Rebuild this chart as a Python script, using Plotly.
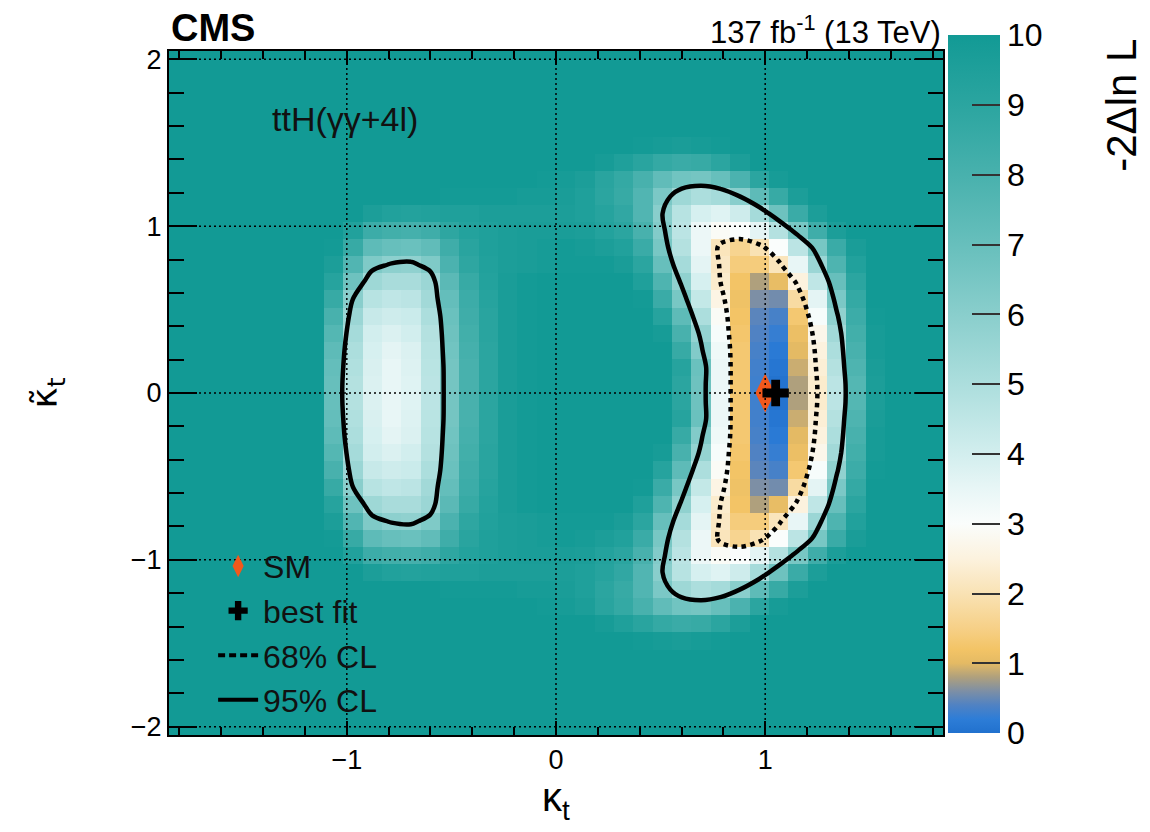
import plotly.graph_objects as go

# ---- data -------------------------------------------------------------
# bin centres of the 2D scan (kappa_t on x, kappa_t tilde on y)
KT = [-1.80375, -1.71125, -1.61875, -1.52625, -1.43375, -1.34125, -1.24875, -1.15625, -1.06375, -0.97125,
      -0.87875, -0.78625, -0.69375, -0.60125, -0.50875, -0.41625, -0.32375, -0.23125, -0.13875, -0.04625,
      0.04625, 0.13875, 0.23125, 0.32375, 0.41625, 0.50875, 0.60125, 0.69375, 0.78625, 0.87875,
      0.97125, 1.06375, 1.15625, 1.24875, 1.34125, 1.43375, 1.52625, 1.61875, 1.71125, 1.80375]
KTT = [-1.99875, -1.89625, -1.79375, -1.69125, -1.58875, -1.48625, -1.38375, -1.28125, -1.17875, -1.07625,
       -0.97375, -0.87125, -0.76875, -0.66625, -0.56375, -0.46125, -0.35875, -0.25625, -0.15375, -0.05125,
       0.05125, 0.15375, 0.25625, 0.35875, 0.46125, 0.56375, 0.66625, 0.76875, 0.87125, 0.97375,
       1.07625, 1.17875, 1.28125, 1.38375, 1.48625, 1.58875, 1.69125, 1.79375, 1.89625, 1.99875]

# -2 Delta ln L per bin (rows from bottom to top, values >= 10 shown as 10)
Z = [
    [10,10,10,10,10,10,10,10,10,10, 10,10,10,10,10,10,10,10,10,10, 10,10,10,10,10,10,10,10,10,10, 10,10,10,10,10,10,10,10,10,10],
    [10,10,10,10,10,10,10,10,10,10, 10,10,10,10,10,10,10,10,10,10, 10,10,10,10,10,10,10,10,10,10, 10,10,10,10,10,10,10,10,10,10],
    [10,10,10,10,10,10,10,10,10,10, 10,10,10,10,10,10,10,10,10,10, 10,10,10,10,10,10,10,10,10,10, 10,10,10,10,10,10,10,10,10,10],
    [10,10,10,10,10,10,10,10,10,10, 10,10,10,10,10,10,10,10,10,10, 10,10,10,10,10,10,10,10,10,10, 10,10,10,10,10,10,10,10,10,10],
    [10,10,10,10,10,10,10,10,10,10, 10,10,10,10,10,10,10,10,10,10, 10,10,10,10,10,10,10,10,10,10, 10,10,10,10,10,10,10,10,10,10],
    [10,10,10,10,10,10,10,10,10,10, 10,10,10,10,10,10,10,10,10,10, 10,10,10,10,9.9,9.8,9.7,9.8,9.9,10, 10,10,10,10,10,10,10,10,10,10],
    [10,10,10,10,10,10,10,10,10,10, 10,10,10,10,10,10,10,10,10,10, 10,10,9.8,9.5,9.1,8.7,8.5,8.6,9.0,9.6, 10,10,10,10,10,10,10,10,10,10],
    [10,10,10,10,10,10,10,10,10,10, 10,10,10,10,10,10,10,10,10,9.9, 9.8,9.6,9.1,8.7,8.0,7.2,6.7,6.6,7.0,7.9, 9.0,9.8,10,10,10,10,10,10,10,10],
    [10,10,10,10,10,10,10,10,10,10, 10,10,10,10,9.9,9.9,9.9,9.9,9.8,9.8, 9.7,9.5,9.0,8.6,7.7,6.4,5.4,5.0,5.2,6.0, 7.3,8.6,9.6,10,10,10,10,10,10,10],
    [10,10,10,10,10,10,10,10,10,10, 9.6,9.4,9.3,9.4,9.5,9.5,9.6,9.6,9.6,9.6, 9.6,9.5,9.2,8.8,7.7,6.0,4.7,3.9,3.7,4.1, 5.2,6.8,8.5,9.6,10,10,10,10,10,10],
    [10,10,10,10,10,10,10,10,10,9.4, 8.4,8.2,8.1,8.3,8.9,9.3,9.5,9.6,9.7,9.7, 9.7,9.6,9.3,9.0,8.0,6.2,4.6,3.4,2.9,3.0, 3.6,4.8,6.5,8.3,9.6,10,10,10,10,10],
    [10,10,10,10,10,10,10,10,9.9,8.6, 7.3,7.0,6.9,7.2,8.3,9.1,9.5,9.6,9.7,9.8, 9.9,9.8,9.6,9.4,8.5,6.5,4.8,3.4,2.1,1.6, 2.0,3.0,4.6,6.5,8.5,9.7,10,10,10,10],
    [10,10,10,10,10,10,10,10,9.6,7.7, 6.3,5.9,5.8,6.3,7.9,8.9,9.4,9.6,9.7,9.8, 9.9,9.9,9.9,9.7,9.0,7.0,5.2,3.6,2.2,1.4, 1.4,2.1,3.5,5.5,7.8,9.4,10,10,10,10],
    [10,10,10,10,10,10,10,10,9.2,6.8, 5.4,5.1,5.1,5.5,7.4,8.6,9.3,9.7,9.9,10, 10,10,10,10,9.5,7.8,5.8,3.9,2.3,1.2, 0.8,1.05,2.5,4.5,7.0,9.0,10,10,10,10],
    [10,10,10,10,10,10,10,10,8.6,6.0, 4.7,4.5,4.6,5.3,7.1,8.4,9.2,9.7,9.9,10, 10,10,10,10,9.9,8.5,6.5,4.4,2.6,1.15, 0.6,0.55,1.8,3.6,6.4,8.7,10,10,10,10],
    [10,10,10,10,10,10,10,10,8.0,5.5, 4.3,4.1,4.2,5.0,6.9,8.3,9.1,9.7,9.9,10, 10,10,10,10,10,9.2,7.3,5.0,2.9,1.2, 0.45,0.35,1.3,3.1,5.8,8.4,9.9,10,10,10],
    [10,10,10,10,10,10,10,10,7.6,5.2, 4.0,3.8,4.0,4.8,6.8,8.2,9.1,9.7,9.9,10, 10,10,10,10,10,9.8,8.0,5.7,3.1,1.25, 0.4,0.25,1.1,2.7,5.3,8.2,9.8,10,10,10],
    [10,10,10,10,10,10,10,10,7.3,5.0, 3.9,3.6,3.8,4.7,6.7,8.1,9.0,9.7,9.9,10, 10,10,10,10,10,10,8.6,6.2,3.3,1.3, 0.35,0.15,1.0,2.5,5.0,8.0,9.8,10,10,10],
    [10,10,10,10,10,10,10,10,7.1,4.9, 3.85,3.5,3.75,4.65,6.6,8.0,9.0,9.7,9.9,10, 10,10,10,10,10,10,9.2,6.9,3.4,1.3, 0.32,0.08,0.9,2.4,4.8,7.8,9.7,10,10,10],
    [10,10,10,10,10,10,10,10,7.0,4.8, 3.8,3.5,3.7,4.6,6.6,8.0,9.0,9.7,9.9,10, 10,10,10,10,10,10,9.0,6.8,3.4,1.3, 0.3,0.03,0.8,2.3,4.6,7.6,9.6,10,10,10],
    [10,10,10,10,10,10,10,10,7.0,4.8, 3.8,3.5,3.7,4.6,6.6,8.0,9.0,9.7,9.9,10, 10,10,10,10,10,10,9.0,6.8,3.4,1.3, 0.3,0.03,0.8,2.3,4.6,7.6,9.6,10,10,10],
    [10,10,10,10,10,10,10,10,7.1,4.9, 3.85,3.5,3.75,4.65,6.6,8.0,9.0,9.7,9.9,10, 10,10,10,10,10,10,9.2,6.9,3.4,1.3, 0.32,0.08,0.9,2.4,4.8,7.8,9.7,10,10,10],
    [10,10,10,10,10,10,10,10,7.3,5.0, 3.9,3.6,3.8,4.7,6.7,8.1,9.0,9.7,9.9,10, 10,10,10,10,10,10,8.6,6.2,3.3,1.3, 0.35,0.15,1.0,2.5,5.0,8.0,9.8,10,10,10],
    [10,10,10,10,10,10,10,10,7.6,5.2, 4.0,3.8,4.0,4.8,6.8,8.2,9.1,9.7,9.9,10, 10,10,10,10,10,9.8,8.0,5.7,3.1,1.25, 0.4,0.25,1.1,2.7,5.3,8.2,9.8,10,10,10],
    [10,10,10,10,10,10,10,10,8.0,5.5, 4.3,4.1,4.2,5.0,6.9,8.3,9.1,9.7,9.9,10, 10,10,10,10,10,9.2,7.3,5.0,2.9,1.2, 0.45,0.35,1.3,3.1,5.8,8.4,9.9,10,10,10],
    [10,10,10,10,10,10,10,10,8.6,6.0, 4.7,4.5,4.6,5.3,7.1,8.4,9.2,9.7,9.9,10, 10,10,10,10,9.9,8.5,6.5,4.4,2.6,1.15, 0.6,0.55,1.8,3.6,6.4,8.7,10,10,10,10],
    [10,10,10,10,10,10,10,10,9.2,6.8, 5.4,5.1,5.1,5.5,7.4,8.6,9.3,9.7,9.9,10, 10,10,10,10,9.5,7.8,5.8,3.9,2.3,1.2, 0.8,1.05,2.5,4.5,7.0,9.0,10,10,10,10],
    [10,10,10,10,10,10,10,10,9.6,7.7, 6.3,5.9,5.8,6.3,7.9,8.9,9.4,9.6,9.7,9.8, 9.9,9.9,9.9,9.7,9.0,7.0,5.2,3.6,2.2,1.4, 1.4,2.1,3.5,5.5,7.8,9.4,10,10,10,10],
    [10,10,10,10,10,10,10,10,9.9,8.6, 7.3,7.0,6.9,7.2,8.3,9.1,9.5,9.6,9.7,9.8, 9.9,9.8,9.6,9.4,8.5,6.5,4.8,3.4,2.1,1.6, 2.0,3.0,4.6,6.5,8.5,9.7,10,10,10,10],
    [10,10,10,10,10,10,10,10,10,9.4, 8.4,8.2,8.1,8.3,8.9,9.3,9.5,9.6,9.7,9.7, 9.7,9.6,9.3,9.0,8.0,6.2,4.6,3.4,2.9,3.0, 3.6,4.8,6.5,8.3,9.6,10,10,10,10,10],
    [10,10,10,10,10,10,10,10,10,10, 9.6,9.4,9.3,9.4,9.5,9.5,9.6,9.6,9.6,9.6, 9.6,9.5,9.2,8.8,7.7,6.0,4.7,3.9,3.7,4.1, 5.2,6.8,8.5,9.6,10,10,10,10,10,10],
    [10,10,10,10,10,10,10,10,10,10, 10,10,10,10,9.9,9.9,9.9,9.9,9.8,9.8, 9.7,9.5,9.0,8.6,7.7,6.4,5.4,5.0,5.2,6.0, 7.3,8.6,9.6,10,10,10,10,10,10,10],
    [10,10,10,10,10,10,10,10,10,10, 10,10,10,10,10,10,10,10,10,9.9, 9.8,9.6,9.1,8.7,8.0,7.2,6.7,6.6,7.0,7.9, 9.0,9.8,10,10,10,10,10,10,10,10],
    [10,10,10,10,10,10,10,10,10,10, 10,10,10,10,10,10,10,10,10,10, 10,10,9.8,9.5,9.1,8.7,8.5,8.6,9.0,9.6, 10,10,10,10,10,10,10,10,10,10],
    [10,10,10,10,10,10,10,10,10,10, 10,10,10,10,10,10,10,10,10,10, 10,10,10,10,9.9,9.8,9.7,9.8,9.9,10, 10,10,10,10,10,10,10,10,10,10],
    [10,10,10,10,10,10,10,10,10,10, 10,10,10,10,10,10,10,10,10,10, 10,10,10,10,10,10,10,10,10,10, 10,10,10,10,10,10,10,10,10,10],
    [10,10,10,10,10,10,10,10,10,10, 10,10,10,10,10,10,10,10,10,10, 10,10,10,10,10,10,10,10,10,10, 10,10,10,10,10,10,10,10,10,10],
    [10,10,10,10,10,10,10,10,10,10, 10,10,10,10,10,10,10,10,10,10, 10,10,10,10,10,10,10,10,10,10, 10,10,10,10,10,10,10,10,10,10],
    [10,10,10,10,10,10,10,10,10,10, 10,10,10,10,10,10,10,10,10,10, 10,10,10,10,10,10,10,10,10,10, 10,10,10,10,10,10,10,10,10,10],
    [10,10,10,10,10,10,10,10,10,10, 10,10,10,10,10,10,10,10,10,10, 10,10,10,10,10,10,10,10,10,10, 10,10,10,10,10,10,10,10,10,10],
]

SM_POINT = [1.0, 0.0]
BEST_FIT = [1.05, 0.0]
CL_LEVELS = [2.30, 5.99]          # 68% and 95% CL for two parameters
LEGEND_NAMES = ["SM", "best fit", "68% CL", "95% CL"]
X_TICKS = [-1, 0, 1]
Y_TICKS = [-2, -1, 0, 1, 2]
CB_TICKS = [0, 1, 2, 3, 4, 5, 6, 7, 8, 9, 10]

# ---- style ------------------------------------------------------------
FONT = "Liberation Sans, Arial, Helvetica, sans-serif"
SM_COLOR = "#f2581c"
COLORSCALE = [
    [0.00, "rgb(33,113,206)"],
    [0.02, "rgb(45,125,215)"],
    [0.04, "rgb(80,130,195)"],
    [0.06, "rgb(125,143,165)"],
    [0.08, "rgb(175,160,125)"],
    [0.10, "rgb(228,186,100)"],
    [0.12, "rgb(243,196,102)"],
    [0.15, "rgb(246,208,135)"],
    [0.20, "rgb(249,226,180)"],
    [0.25, "rgb(252,242,222)"],
    [0.30, "rgb(250,253,252)"],
    [0.35, "rgb(232,246,246)"],
    [0.40, "rgb(210,238,238)"],
    [0.50, "rgb(172,222,221)"],
    [0.60, "rgb(137,206,204)"],
    [0.70, "rgb(103,191,188)"],
    [0.80, "rgb(72,177,173)"],
    [0.90, "rgb(43,165,160)"],
    [1.00, "rgb(18,154,149)"],
]

fig = go.Figure()

fig.add_trace(go.Heatmap(
    x=KT, y=KTT, z=Z, zmin=0, zmax=10, zsmooth=False,
    colorscale=COLORSCALE, hoverinfo="skip",
    colorbar=dict(
        x=1.0065, xanchor="left", xpad=0,
        y=0.513, yanchor="middle", ypad=0,
        thickness=52, thicknessmode="pixels",
        len=698, lenmode="pixels",
        outlinewidth=0,
        ticks="inside", ticklen=28, tickwidth=1.5, tickcolor="#333",
        tickvals=CB_TICKS,
        tickfont=dict(family=FONT, size=32, color="black"),
    ),
))

for level, dash in zip(CL_LEVELS, ["dot", "solid"]):
    fig.add_trace(go.Contour(
        x=KT, y=KTT, z=Z, autocontour=False,
        contours=dict(start=level, end=level, size=1, coloring="none"),
        line=dict(color="black", width=4.5, dash=dash, smoothing=1.0),
        showscale=False, showlegend=False, hoverinfo="skip",
    ))

fig.add_trace(go.Scatter(
    x=[SM_POINT[0]], y=[SM_POINT[1]], mode="markers",
    marker=dict(symbol="diamond-tall", size=28, color=SM_COLOR),
    showlegend=False, hoverinfo="skip",
))
fig.add_trace(go.Scatter(
    x=[BEST_FIT[0]], y=[BEST_FIT[1]], mode="markers",
    marker=dict(symbol="cross", size=22, color="black"),
    showlegend=False, hoverinfo="skip",
))

# legend entries
fig.add_trace(go.Scatter(x=[None], y=[None], mode="markers", name=LEGEND_NAMES[0], legendgroup="g1",
                         marker=dict(symbol="diamond-tall", size=16, color=SM_COLOR)))
fig.add_trace(go.Scatter(x=[None], y=[None], mode="markers", name=LEGEND_NAMES[1], legendgroup="g2",
                         marker=dict(symbol="cross", size=16, color="black")))
fig.add_trace(go.Scatter(x=[None], y=[None], mode="lines", name=LEGEND_NAMES[2], legendgroup="g3",
                         line=dict(color="black", width=4, dash="7px,4px")))
fig.add_trace(go.Scatter(x=[None], y=[None], mode="lines", name=LEGEND_NAMES[3], legendgroup="g4",
                         line=dict(color="black", width=4)))

# dotted grid lines drawn on top of the heat map
shapes = []
for t in X_TICKS:
    shapes.append(dict(type="line", xref="x", yref="y domain", x0=t, x1=t, y0=0, y1=1,
                       line=dict(color="black", width=1.5, dash="2px,3px"), layer="above"))
for t in Y_TICKS:
    shapes.append(dict(type="line", xref="x domain", yref="y", x0=0, x1=1, y0=t, y1=t,
                       line=dict(color="black", width=1.5, dash="2px,3px"), layer="above"))

axis_common = dict(
    showline=True, linecolor="black", linewidth=2, mirror="allticks",
    ticks="inside", tickcolor="black", tickwidth=1.5,
    showgrid=False, zeroline=False,
    tickfont=dict(family=FONT, size=27, color="black"),
)

fig.update_layout(
    width=1150, height=832, autosize=False,
    margin=dict(l=169, r=207, t=51, b=97),
    paper_bgcolor="white", plot_bgcolor="white",
    font=dict(family=FONT, color="black"),
    xaxis=dict(
        range=[-1.85, 1.85], tickvals=X_TICKS, ticklen=14,
        minor=dict(ticks="inside", ticklen=8, dtick=0.2, tick0=0, tickcolor="black", tickwidth=1.5, showgrid=False),
        title=dict(text="κ<sub>t</sub>", font=dict(family=FONT, size=40), standoff=2),
        **axis_common,
    ),
    yaxis=dict(
        range=[-2.05, 2.05], tickvals=Y_TICKS, ticklen=28,
        minor=dict(ticks="inside", ticklen=15, dtick=0.2, tick0=0, tickcolor="black", tickwidth=1.5, showgrid=False),
        title=dict(text="κ̃<sub>t</sub>", font=dict(family="DejaVu Sans, Liberation Sans, sans-serif", size=36),
                   standoff=62),
        **axis_common,
    ),
    shapes=shapes,
    legend=dict(
        x=0.057, y=0.287, xanchor="left", yanchor="top",
        bgcolor="rgba(0,0,0,0)", borderwidth=0,
        font=dict(family=FONT, size=32, color="#111"),
        itemwidth=40, tracegroupgap=0, traceorder="grouped",
    ),
    annotations=[
        dict(text="<b>CMS</b>", xref="paper", yref="paper", x=0.0, y=1.034,
             xanchor="left", yanchor="middle", showarrow=False,
             font=dict(family=FONT, size=38, color="black")),
        dict(text="137 fb<sup>-1</sup> (13 TeV)", xref="paper", yref="paper", x=1.0, y=1.031,
             xanchor="right", yanchor="middle", showarrow=False,
             font=dict(family=FONT, size=31, color="black")),
        dict(text="ttH(γγ+4l)", xref="paper", yref="paper", x=0.1305, y=0.9006,
             xanchor="left", yanchor="middle", showarrow=False,
             font=dict(family=FONT, size=34, color="#111")),
        dict(text="-2Δln L", xref="paper", yref="paper", x=1.2313, y=0.92,
             xanchor="center", yanchor="middle", textangle=-90, showarrow=False,
             font=dict(family=FONT, size=42, color="black")),
    ],
)

fig.write_html("out.html")
